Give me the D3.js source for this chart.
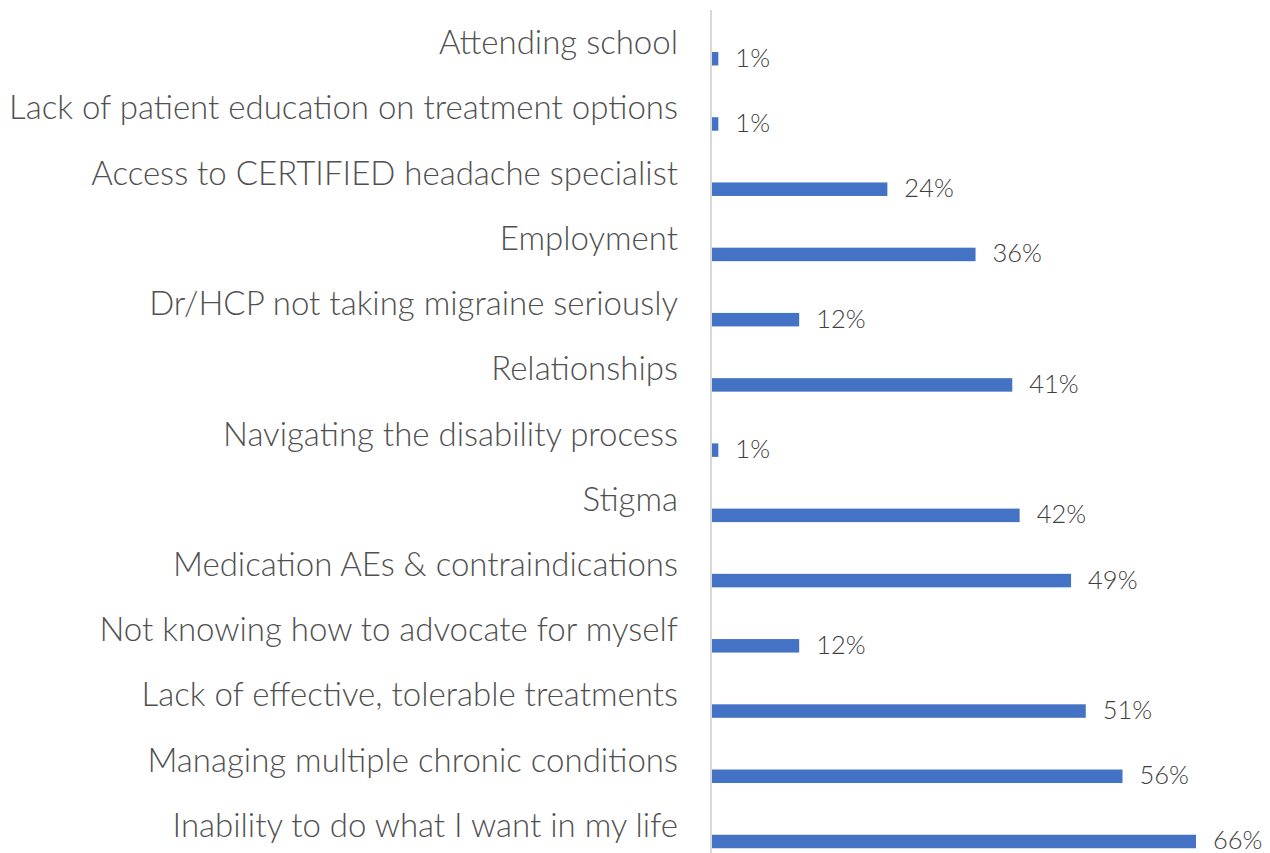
<!DOCTYPE html>
<html>
<head>
<meta charset="utf-8">
<script src="https://cdn.jsdelivr.net/npm/d3@7"></script>
<style>
  body { margin: 0; background: #fff; }
  text { font-family: Lato, "Noto Sans", sans-serif; font-weight: 300; }
</style>
</head>
<body>
<div id="chart-area"></div>
<script>
// Categories, top to bottom
let categories = [
    'Attending school',
    'Lack of patient education on treatment options',
    'Access to CERTIFIED headache specialist',
    'Employment',
    'Dr/HCP not taking migraine seriously',
    'Relationships',
    'Navigating the disability process',
    'Stigma',
    'Medication AEs & contraindications',
    'Not knowing how to advocate for myself',
    'Lack of effective, tolerable treatments',
    'Managing multiple chronic conditions',
    'Inability to do what I want in my life'
];
// Percent of respondents
let values = [1, 1, 24, 36, 12, 41, 1, 42, 49, 12, 51, 56, 66];

let svgWidth = 1270;
let svgHeight = 853;

let svg = d3.select('#chart-area')
    .append('svg')
        .attr('width', svgWidth)
        .attr('height', svgHeight);

// Scales
let x = d3.scaleLinear()
    .domain([0, 66])
    .range([711, 1196]);
let y = d3.scaleBand()
    .domain(categories)
    .range([12, 860])
    .padding(0);

let bw = y.bandwidth();

// Axis line
svg.append('line')
    .attr('x1', 711).attr('x2', 711)
    .attr('y1', 10).attr('y2', svgHeight)
    .attr('stroke', '#d9d9d9')
    .attr('stroke-width', 2);

// Category labels
svg.selectAll('text.cat')
    .data(categories)
    .enter()
    .append('text')
        .attr('class', 'cat')
        .attr('x', 678)
        .attr('y', function(d){ return y(d) + bw / 2 + 9.5; })
        .attr('text-anchor', 'end')
        .attr('font-size', '33px')
        .attr('fill', '#505050')
        .text(function(d){ return d; });

// Bars
svg.selectAll('rect.bar')
    .data(values)
    .enter()
    .append('rect')
        .attr('class', 'bar')
        .attr('x', x(0) + 1)
        .attr('y', function(d, i){ return y(categories[i]) + bw * 0.613; })
        .attr('width', function(d){ return x(d) - x(0) - 1; })
        .attr('height', bw * 0.207)
        .attr('fill', '#4472c4');

// Value labels
svg.selectAll('text.val')
    .data(values)
    .enter()
    .append('text')
        .attr('class', 'val')
        .attr('x', function(d){ return x(d) + 17; })
        .attr('y', function(d, i){ return y(categories[i]) + bw * 0.716 + 8; })
        .attr('font-size', '25.5px')
        .attr('fill', '#404040')
        .text(function(d){ return d + '%'; });
</script>
</body>
</html>
